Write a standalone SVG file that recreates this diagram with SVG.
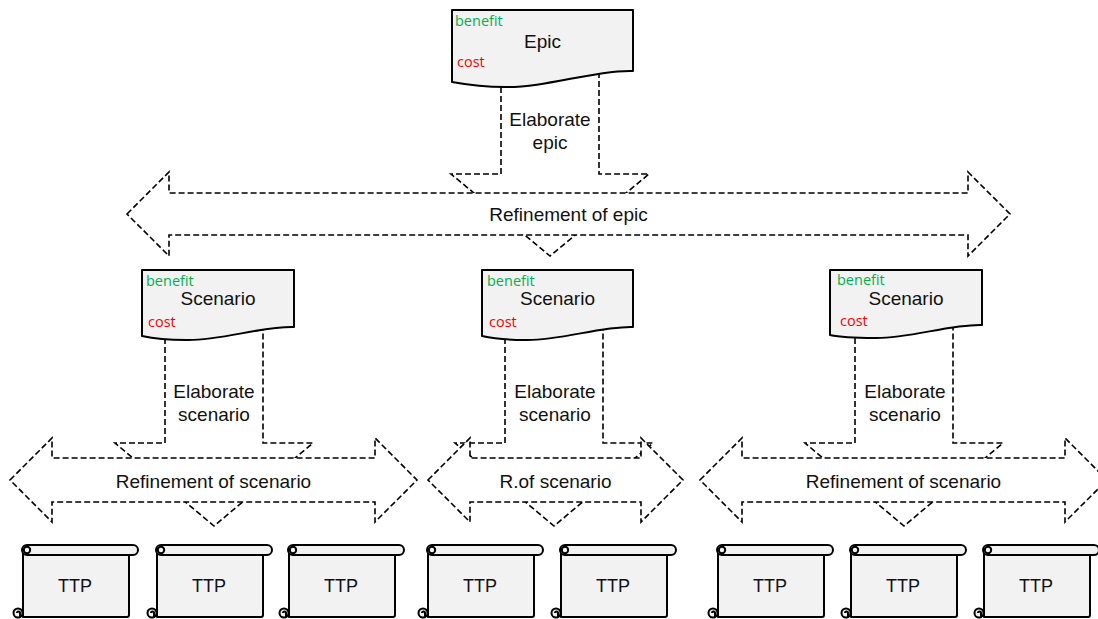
<svg xmlns="http://www.w3.org/2000/svg" xmlns:xlink="http://www.w3.org/1999/xlink" width="1098" height="619" viewBox="0 0 1098 619">
  <style>
    .dash { fill: #ffffff; stroke: #000000; stroke-width: 1.6; stroke-dasharray: 6 3; stroke-linejoin: miter; }
    .doc { fill: #f2f2f2; stroke: #000000; stroke-width: 2; stroke-linejoin: round; }
    .scr { fill: #f2f2f2; stroke: #000000; stroke-width: 2; stroke-linejoin: round; }
    .lbl { font-family: "Liberation Sans", Arial, Helvetica, sans-serif; font-size: 19px; fill: #111111; text-anchor: middle; }
    .ttp { font-family: "Liberation Sans", Arial, Helvetica, sans-serif; font-size: 18px; fill: #111111; text-anchor: middle; }
    .benefit { font-family: "Open Sans", "Noto Sans", sans-serif; font-size: 14.5px; fill: #00b050; }
    .cost { font-family: "Open Sans", "Noto Sans", sans-serif; font-size: 14.5px; fill: #ff0000; }
  </style>
  <defs>
    <!-- horizontal scroll: rolled top edge, sheet, curled bottom corner -->
    <g id="scroll">
      <path class="scr" d="M1,550 V617 H105 Q107,617 107,615 V555"/>
      <rect class="scr" x="0" y="545" width="116" height="10" rx="5" ry="5"/>
      <circle class="scr" cx="5" cy="550" r="3.2"/>
      <circle class="scr" cx="-4" cy="613" r="4.5"/>
      <path d="M-5,613 A1.5,1.5 0 0 1 -2,613 V617" fill="none" stroke="#000" stroke-width="2"/>
    </g>
  </defs>

  <rect width="1098" height="619" fill="#ffffff"/>

  <g id="connectors">
    <!-- elaborate arrows (down block arrows, lower tips peek out below the refinement bands) -->
    <g id="elaborate-epic">
      <polygon class="dash" points="501,60 501,174 451,174 550,256 649,174 599,174 599,60"/>
    </g>
    <g id="elaborate-scenario-1">
      <polygon class="dash" points="165,320 165,443 115,443 214,526 313,443 263,443 263,320"/>
    </g>
    <g id="elaborate-scenario-2">
      <polygon class="dash" points="505,320 505,443 455,443 554,526 653,443 603,443 603,320"/>
    </g>
    <g id="elaborate-scenario-3">
      <polygon class="dash" points="855,320 855,443 805,443 904,526 1003,443 953,443 953,320"/>
    </g>

    <!-- refinement arrows (double-headed block arrows) -->
    <g id="refinement-epic">
      <polygon class="dash" points="127,214 169,172 169,193 968,193 968,172 1010,214 968,256 968,235 169,235 169,256"/>
      <text class="lbl" x="568.5" y="221">Refinement of epic</text>
    </g>
    <g id="refinement-scenario-1">
      <polygon class="dash" points="10,480 52,438 52,458 375,458 375,438 417,480 375,522 375,502 52,502 52,522"/>
      <text class="lbl" x="213.5" y="488">Refinement of scenario</text>
    </g>
    <g id="refinement-scenario-2">
      <polygon class="dash" points="428,480 470,438 470,458 641,458 641,438 683,480 641,522 641,502 470,502 470,522"/>
      <text class="lbl" x="555.5" y="488">R.of scenario</text>
    </g>
    <g id="refinement-scenario-3">
      <polygon class="dash" points="700,480 742,438 742,458 1065,458 1065,438 1107,480 1065,522 1065,502 742,502 742,522"/>
      <text class="lbl" x="903.5" y="488">Refinement of scenario</text>
    </g>

    <!-- labels of the elaborate arrows -->
    <text class="lbl" x="550" y="126">Elaborate</text>
    <text class="lbl" x="550" y="149">epic</text>
    <text class="lbl" x="214" y="398">Elaborate</text>
    <text class="lbl" x="214" y="421">scenario</text>
    <text class="lbl" x="555" y="398">Elaborate</text>
    <text class="lbl" x="555" y="421">scenario</text>
    <text class="lbl" x="905" y="398">Elaborate</text>
    <text class="lbl" x="905" y="421">scenario</text>
  </g>

  <!-- documents -->
  <g id="epic">
    <path class="doc" d="M452,10 H633 V71 C595,70 545,88 505,87 C480,87 463,84 452,82 Z"/>
    <text class="benefit" x="455" y="26">benefit</text>
    <text class="lbl" x="542.5" y="48">Epic</text>
    <text class="cost" x="457" y="67">cost</text>
  </g>
  <g id="scenario-1">
    <path class="doc" d="M142,270 H294 V327 C262,326 220,341 186,340 C165,340 151,338 142,336 Z"/>
    <text class="benefit" x="146" y="286">benefit</text>
    <text class="lbl" x="218" y="305">Scenario</text>
    <text class="cost" x="148" y="327">cost</text>
  </g>
  <g id="scenario-2">
    <path class="doc" d="M482,270 H633 V327 C601,326 559,341 525,340 C505,340 491,338 482,336 Z"/>
    <text class="benefit" x="487" y="286">benefit</text>
    <text class="lbl" x="557.5" y="305">Scenario</text>
    <text class="cost" x="489" y="327">cost</text>
  </g>
  <g id="scenario-3">
    <path class="doc" d="M830,270 H982 V325 C950,324 908,339 874,338 C853,338 839,337 830,335 Z"/>
    <text class="benefit" x="837" y="285">benefit</text>
    <text class="lbl" x="906" y="305">Scenario</text>
    <text class="cost" x="840" y="326">cost</text>
  </g>

  <!-- TTP scrolls -->
  <g id="ttp-1"><use xlink:href="#scroll" x="22"/><text class="ttp" x="75" y="592">TTP</text></g>
  <g id="ttp-2"><use xlink:href="#scroll" x="156"/><text class="ttp" x="209" y="592">TTP</text></g>
  <g id="ttp-3"><use xlink:href="#scroll" x="288"/><text class="ttp" x="341" y="592">TTP</text></g>
  <g id="ttp-4"><use xlink:href="#scroll" x="427"/><text class="ttp" x="480" y="592">TTP</text></g>
  <g id="ttp-5"><use xlink:href="#scroll" x="560"/><text class="ttp" x="613" y="592">TTP</text></g>
  <g id="ttp-6"><use xlink:href="#scroll" x="717"/><text class="ttp" x="770" y="592">TTP</text></g>
  <g id="ttp-7"><use xlink:href="#scroll" x="850"/><text class="ttp" x="903" y="592">TTP</text></g>
  <g id="ttp-8"><use xlink:href="#scroll" x="983"/><text class="ttp" x="1036" y="592">TTP</text></g>
</svg>
